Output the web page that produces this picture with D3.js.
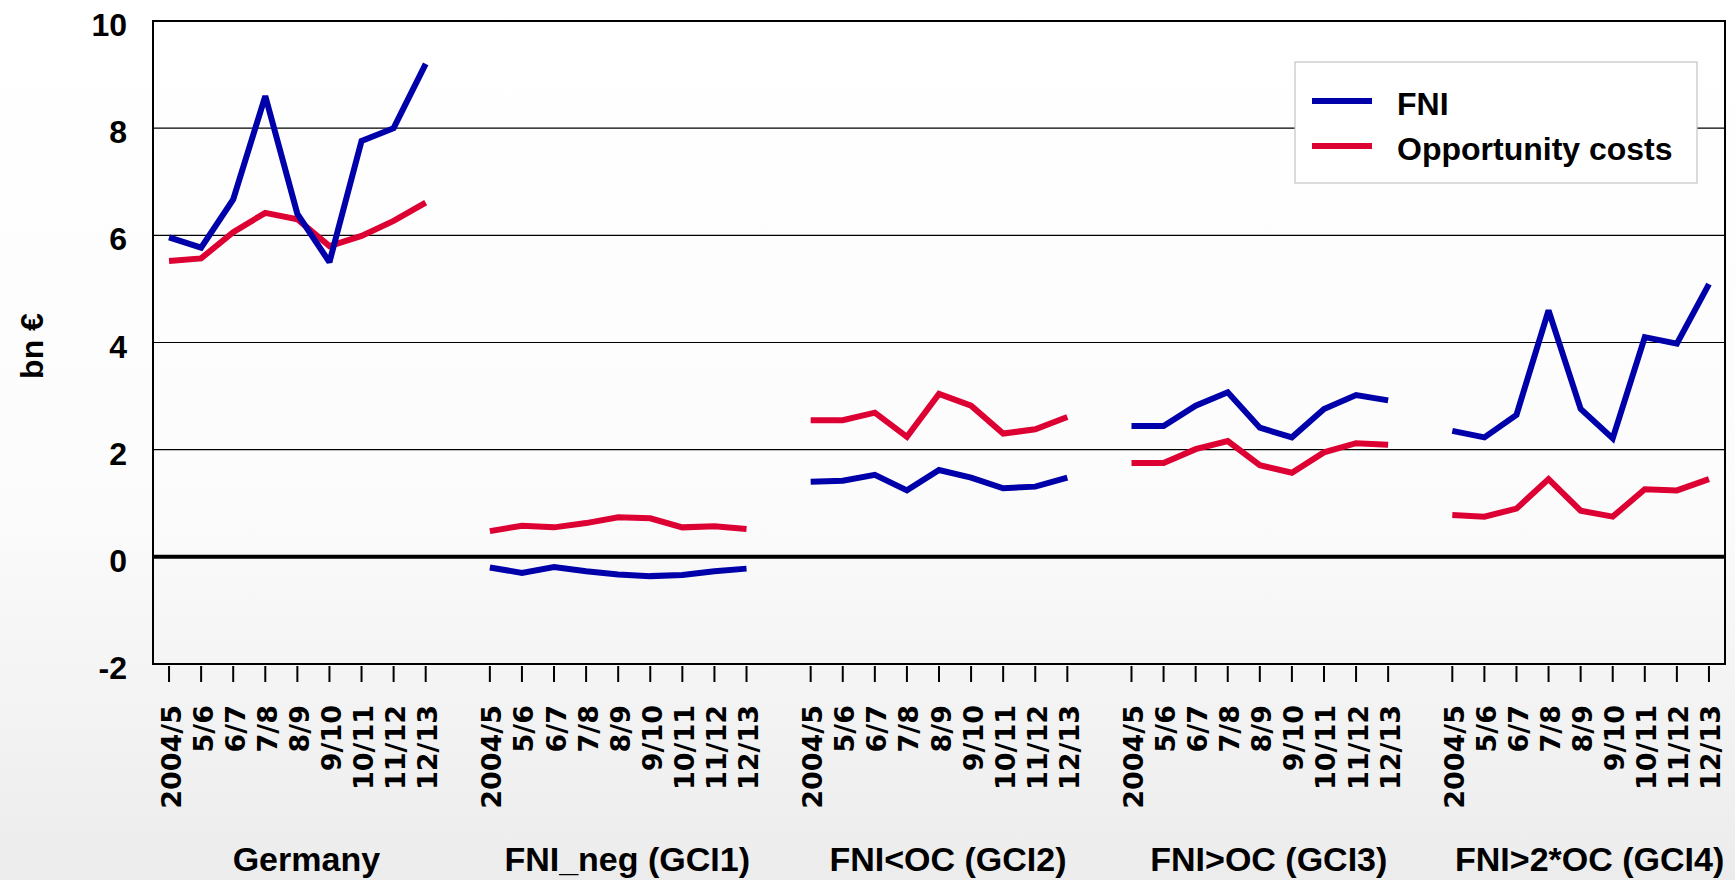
<!DOCTYPE html>
<html>
<head>
<meta charset="utf-8">
<script src="https://cdn.jsdelivr.net/npm/d3@7"></script>
<style>
  html, body { margin: 0; padding: 0; background: #fff; }
  svg { display: block; }
</style>
</head>
<body>
<svg id="chart" width="1735" height="880"></svg>
<script>
// ---------------- data ----------------
const periods = ["2004/5", "5/6", "6/7", "7/8", "8/9", "9/10", "10/11", "11/12", "12/13"];
const groups = ["Germany", "FNI_neg (GCI1)", "FNI<OC (GCI2)", "FNI>OC (GCI3)", "FNI>2*OC (GCI4)"];
const seriesNames = ["FNI", "Opportunity costs"];
const yTicks = [-2, 0, 2, 4, 6, 8, 10];

const fniGermany = [5.96, 5.77, 6.67, 8.60, 6.40, 5.50, 7.76, 8.00, 9.20];
const ocGermany  = [5.52, 5.57, 6.06, 6.42, 6.30, 5.80, 5.99, 6.27, 6.61];
const fniGCI1 = [-0.20, -0.30, -0.19, -0.27, -0.33, -0.36, -0.34, -0.27, -0.22];
const ocGCI1  = [0.48, 0.58, 0.55, 0.63, 0.74, 0.72, 0.55, 0.57, 0.52];
const fniGCI2 = [1.40, 1.42, 1.53, 1.24, 1.62, 1.48, 1.28, 1.31, 1.48];
const ocGCI2  = [2.55, 2.55, 2.69, 2.24, 3.04, 2.82, 2.30, 2.38, 2.61];
const fniGCI3 = [2.44, 2.44, 2.82, 3.07, 2.41, 2.23, 2.76, 3.02, 2.92];
const ocGCI3  = [1.75, 1.75, 2.01, 2.16, 1.71, 1.57, 1.95, 2.12, 2.09];
const fniGCI4 = [2.35, 2.23, 2.65, 4.60, 2.76, 2.21, 4.10, 3.98, 5.09];
const ocGCI4  = [0.78, 0.75, 0.90, 1.45, 0.86, 0.75, 1.26, 1.24, 1.45];

const fniByGroup = [fniGermany, fniGCI1, fniGCI2, fniGCI3, fniGCI4];
const ocByGroup  = [ocGermany, ocGCI1, ocGCI2, ocGCI3, ocGCI4];

// ---------------- layout ----------------
const W = 1735, H = 880;
const plot = { left: 153, right: 1725, top: 21, bottom: 664 };
const colors = { fni: "#0000aa", oc: "#dd0033" };
const catFont = "'Liberation Sans', Arial, sans-serif";
const tickFont = "'DejaVu Sans', Verdana, sans-serif";

// slot keys: 9 periods per group, one blank slot between groups
const slots = [];
groups.forEach((g, gi) => {
  periods.forEach(p => slots.push(g + "|" + p));
  if (gi < groups.length - 1) slots.push("gap" + gi);
});

const x = d3.scalePoint().domain(slots).range([plot.left, plot.right]).padding(0.5);
const y = d3.scaleLinear().domain([-2, 10]).range([plot.bottom, plot.top]);

const svg = d3.select("#chart");

// background gradient
const defs = svg.append("defs");
const grad = defs.append("linearGradient").attr("id", "bg").attr("x1", 0).attr("y1", 0).attr("x2", 0).attr("y2", 1);
grad.append("stop").attr("offset", "0%").attr("stop-color", "#ffffff");
grad.append("stop").attr("offset", "55%").attr("stop-color", "#fcfcfc");
grad.append("stop").attr("offset", "100%").attr("stop-color", "#ececec");
svg.append("rect").attr("width", W).attr("height", H).attr("fill", "url(#bg)");

// gridlines
svg.append("g").selectAll("line")
  .data(yTicks.filter(t => t !== 0 && t !== -2 && t !== 10))
  .join("line")
  .attr("x1", plot.left).attr("x2", plot.right)
  .attr("y1", d => y(d)).attr("y2", d => y(d))
  .attr("stroke", "#000").attr("stroke-width", 1.2);

// y tick labels
svg.append("g").selectAll("text")
  .data(yTicks)
  .join("text")
  .attr("x", 127)
  .attr("y", d => y(d) + 4)
  .attr("text-anchor", "end")
  .attr("dominant-baseline", "central")
  .attr("font-family", catFont)
  .attr("font-weight", "bold")
  .attr("font-size", 32)
  .attr("fill", "#000")
  .text(d => d);

// y axis title
svg.append("text")
  .attr("transform", "translate(32,346) rotate(-90)")
  .attr("text-anchor", "middle")
  .attr("dominant-baseline", "central")
  .attr("font-family", catFont)
  .attr("font-weight", "bold")
  .attr("font-size", 32)
  .text("bn €");

// x ticks and labels
const labelled = slots.filter(s => !s.startsWith("gap"));
svg.append("g").selectAll("line")
  .data(labelled)
  .join("line")
  .attr("x1", d => x(d)).attr("x2", d => x(d))
  .attr("y1", plot.bottom + 2).attr("y2", plot.bottom + 18)
  .attr("stroke", "#000").attr("stroke-width", 2);

svg.append("g").selectAll("text")
  .data(labelled)
  .join("text")
  .attr("transform", d => `translate(${x(d) + 2},705) rotate(-90)`)
  .attr("text-anchor", "end")
  .attr("dominant-baseline", "central")
  .attr("font-family", tickFont)
  .attr("font-weight", "bold")
  .attr("font-size", 27)
  .attr("fill", "#000")
  .text(d => d.split("|")[1]);

// group labels
svg.append("g").selectAll("text")
  .data(groups)
  .join("text")
  .attr("x", g => x(g + "|" + periods[4]) + 9)
  .attr("y", 871)
  .attr("text-anchor", "middle")
  .attr("font-family", catFont)
  .attr("font-weight", "bold")
  .attr("font-size", 34)
  .attr("fill", "#000")
  .text(g => g);

// zero line
svg.append("line")
  .attr("x1", plot.left).attr("x2", plot.right)
  .attr("y1", y(0)).attr("y2", y(0))
  .attr("stroke", "#000").attr("stroke-width", 4);

// plot border
svg.append("rect")
  .attr("x", plot.left).attr("y", plot.top)
  .attr("width", plot.right - plot.left).attr("height", plot.bottom - plot.top)
  .attr("fill", "none").attr("stroke", "#000").attr("stroke-width", 2);

// lines
const line = d3.line().x(d => x(d.k)).y(d => y(d.v));
function drawSeries(byGroup, color) {
  groups.forEach((g, gi) => {
    const pts = byGroup[gi].map((v, i) => ({ k: g + "|" + periods[i], v }));
    svg.append("path")
      .datum(pts)
      .attr("d", line)
      .attr("fill", "none")
      .attr("stroke", color)
      .attr("stroke-width", 6)
      .attr("stroke-linejoin", "miter")
      .attr("stroke-miterlimit", 2)
      .attr("stroke-linecap", "butt");
  });
}
drawSeries(ocByGroup, colors.oc);
drawSeries(fniByGroup, colors.fni);

// legend
const lg = svg.append("g");
lg.append("rect")
  .attr("x", 1295).attr("y", 62).attr("width", 402).attr("height", 121)
  .attr("fill", "#fff").attr("stroke", "#c4c4c4").attr("stroke-width", 1.2);
const legendItems = [{ name: seriesNames[0], c: colors.fni }, { name: seriesNames[1], c: colors.oc }];
legendItems.forEach((it, i) => {
  const ly = 101 + i * 45;
  lg.append("line").attr("x1", 1312).attr("x2", 1372).attr("y1", ly).attr("y2", ly)
    .attr("stroke", it.c).attr("stroke-width", 6);
  lg.append("text").attr("x", 1397).attr("y", ly + 3)
    .attr("dominant-baseline", "central")
    .attr("font-family", catFont).attr("font-weight", "bold").attr("font-size", 32)
    .text(it.name);
});
</script>
</body>
</html>
